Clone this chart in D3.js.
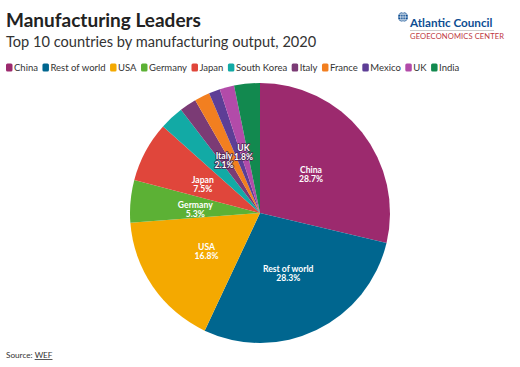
<!DOCTYPE html>
<html><head><meta charset="utf-8">
<script src="https://cdn.jsdelivr.net/npm/d3@7"></script>
<style>
html,body{margin:0;padding:0;background:#fff;}
svg{display:block;font-family:Lato,"Open Sans",sans-serif;}
</style></head>
<body><svg id="c" width="520" height="367"></svg>
<script>
const categories = ["China","Rest of world","USA","Germany","Japan","South Korea","Italy","France","Mexico","UK","India"];
const shares = [28.7,28.3,16.8,5.3,7.5,3.0,2.1,1.9,1.4,1.8,3.2];
const colors = ["#9c2a6e","#00668f","#f4a900","#5cb135","#e0463b","#12aaa5","#7b3b75","#f27f20","#5d3e96","#b24ba9","#12894f"];
const labelled = ["China","Rest of world","USA","Germany","Japan","Italy","UK"];

const svg = d3.select("#c");
const data = categories.map((c,i)=>({name:c,value:shares[i],color:colors[i]}));

// Title
const fit = (sel, w) => { const n = sel.node(); const L = n.getComputedTextLength(); sel.attr("textLength", w).attr("lengthAdjust","spacingAndGlyphs"); };
svg.append("text").attr("x",6).attr("y",27).attr("font-size",19).attr("font-weight",700).attr("fill","#222").text("Manufacturing Leaders");
svg.append("text").attr("x",6).attr("y",47).attr("font-size",14.6).attr("font-weight",400).attr("fill","#333").text("Top 10 countries by manufacturing output, 2020");

// Logo
const logo = svg.append("g");
const gl = logo.append("g").attr("transform","translate(403,17)");
gl.append("circle").attr("r",5).attr("fill","#0d4d92");
gl.append("path").attr("d","M-5,0H5M0,-5V5M-4,-2.8H4M-4,2.8H4").attr("stroke","#fff").attr("stroke-width",0.7);
gl.append("ellipse").attr("rx",2.3).attr("ry",5).attr("fill","none").attr("stroke","#fff").attr("stroke-width",0.7);
logo.append("text").attr("x",410).attr("y",27).attr("font-size",11.7).attr("font-weight",700).attr("fill","#0d4d92").text("Atlantic Council");
logo.append("line").attr("x1",410).attr("x2",494).attr("y1",30.5).attr("y2",30.5).attr("stroke","#b8b8b8").attr("stroke-width",0.7);
logo.append("text").attr("x",410).attr("y",39).attr("font-size",7.6).attr("fill","#c0393f").attr("letter-spacing",0.1).text("GEOECONOMICS CENTER");

// Legend
const leg = svg.append("g");
let lx = 6;
data.forEach(d=>{
  const g = leg.append("g").attr("transform",`translate(${lx},0)`);
  g.append("rect").attr("x",0).attr("y",63.5).attr("width",6.5).attr("height",8).attr("rx",1.5).attr("fill",d.color);
  const t = g.append("text").attr("x",8).attr("y",71).attr("font-size",9.5).attr("fill","#333").text(d.name);
  lx += 8 + t.node().getComputedTextLength() + 4.5;
});

// Pie
const R = 130, cx = 260, cy = 213;
const pie = d3.pie().value(d=>d.value).sort(null);
const arc = d3.arc().innerRadius(0).outerRadius(R);
const g = svg.append("g").attr("transform",`translate(${cx},${cy})`);
const arcs = pie(data);
g.selectAll("path").data(arcs).join("path").attr("d",arc).attr("fill",d=>d.data.color);

const lab = g.selectAll("g.l").data(arcs.filter(a=>labelled.includes(a.data.name))).join("g")
  .attr("transform",d=>{const c=arc.centroid(d);return `translate(${c[0]},${c[1]+2})`;});
lab.each(function(d){
  const s = d3.select(this);
  const small = d.data.value < 2.5;
  [d.data.name, d.data.value.toFixed(1)+"%"].forEach((txt,i)=>{
    const t = s.append("text").attr("text-anchor","middle").attr("y",i*9 - 1.5)
      .attr("font-size",8.6).attr("font-weight",700).attr("fill","#fff").text(txt);
    if(small) t.attr("stroke","#4a2350").attr("stroke-width",1.6).attr("paint-order","stroke").attr("stroke-linejoin","round");
  });
});

// Source
const src = svg.append("text").attr("x",6).attr("y",358).attr("font-size",8.2).attr("fill","#333");
src.append("tspan").text("Source: ");
src.append("tspan").attr("text-decoration","underline").text("WEF");
</script></body></html>
